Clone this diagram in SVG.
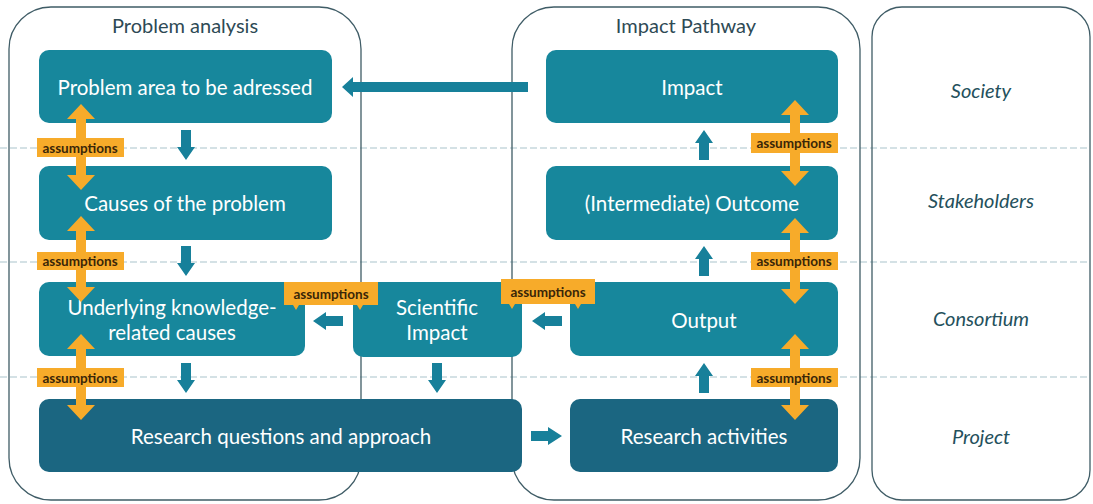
<svg xmlns="http://www.w3.org/2000/svg" width="1093" height="504" viewBox="0 0 1093 504">
<style>
.bg{fill:#ffffff}
.cont{fill:none;stroke:#3F5C66;stroke-width:1.3}
.dash{stroke:#A9C3CC;stroke-width:1.2;stroke-dasharray:7 3}
.box{fill:#17879C}
.dark{fill:#1B6681}
.arr{fill:#17809A}
.or{fill:#F7AB2A}
.bt{font-family:Lato,"Liberation Sans",sans-serif;font-size:20.5px;fill:#ffffff;text-anchor:middle;dominant-baseline:central}
.title{font-family:Lato,"Liberation Sans",sans-serif;font-size:20px;fill:#2E4A55;text-anchor:middle;dominant-baseline:central}
.lane{font-family:Lato,"Liberation Sans",sans-serif;font-size:20px;font-style:italic;fill:#24505C;text-anchor:middle;dominant-baseline:central}
.at{font-family:Lato,"Liberation Sans",sans-serif;font-size:13.5px;font-weight:bold;fill:#3A2608;text-anchor:middle;dominant-baseline:central}
</style>
<defs>
<path id="dbl" d="M0,-43 L14,-28 L5,-28 L5,28 L14,28 L0,43 L-14,28 L-5,28 L-5,-28 L-14,-28 Z"/>
<path id="down" d="M-5,0 L5,0 L5,17 L9,17 L0,30 L-9,17 L-5,17 Z"/>
<path id="up" d="M-5,0 L5,0 L5,-17 L9,-17 L0,-30 L-9,-17 L-5,-17 Z"/>
<path id="left" d="M0,-5 L0,5 L-17,5 L-17,9 L-30,0 L-17,-9 L-17,-5 Z"/>
</defs>
<rect class="bg" x="0" y="0" width="1093" height="504"/>

<g id="lanes">
<line class="dash" x1="0" y1="148" x2="1088" y2="148"/>
<line class="dash" x1="0" y1="262" x2="1088" y2="262"/>
<line class="dash" x1="0" y1="377" x2="1088" y2="377"/>
</g>

<g id="problem-analysis">
<rect class="cont" x="9" y="7" width="352" height="493" rx="42"/>
<text class="title" x="185" y="25">Problem analysis</text>
</g>
<g id="impact-pathway">
<rect class="cont" x="512" y="7" width="348" height="493" rx="42"/>
<text class="title" x="686" y="25">Impact Pathway</text>
</g>
<g id="levels">
<rect class="cont" x="872" y="7" width="218" height="493" rx="30"/>
<text class="lane" x="981" y="90">Society</text>
<text class="lane" x="981" y="200">Stakeholders</text>
<text class="lane" x="981" y="318">Consortium</text>
<text class="lane" x="981" y="436">Project</text>
</g>

<g id="connectors">
<path class="arr" d="M528,82 L528,92 L353,92 L353,97 L342,87 L353,77 L353,82 Z"/>
<use class="arr" href="#down" x="186" y="130"/>
<use class="arr" href="#down" x="186" y="246"/>
<use class="arr" href="#down" x="186" y="363"/>
<use class="arr" href="#down" x="437" y="363"/>
<use class="arr" href="#up" x="704" y="160"/>
<use class="arr" href="#up" x="704" y="276"/>
<use class="arr" href="#up" x="704" y="393"/>
<use class="arr" href="#left" x="343" y="321"/>
<use class="arr" href="#left" x="562" y="321"/>
<path class="arr" d="M531,431 L548,431 L548,427 L562,436 L548,445 L548,441 L531,441 Z"/>
</g>

<g id="n-problem-area"><rect class="box" x="39" y="50" width="293" height="73" rx="10"/><text class="bt" x="185" y="87">Problem area to be adressed</text></g>
<g id="n-causes"><rect class="box" x="39" y="166" width="293" height="74" rx="10"/><text class="bt" x="185" y="203">Causes of the problem</text></g>
<g id="n-underlying"><rect class="box" x="39" y="282" width="266" height="74" rx="10"/><text class="bt" x="172" y="307">Underlying knowledge-</text><text class="bt" x="172" y="332">related causes</text></g>
<g id="n-research-questions"><rect class="dark" x="39" y="399" width="483" height="73" rx="10"/><text class="bt" x="281" y="436">Research questions and approach</text></g>
<g id="n-scientific-impact"><rect class="box" x="353" y="282" width="169" height="75" rx="10"/><text class="bt" x="437" y="307">Scientific</text><text class="bt" x="437" y="332">Impact</text></g>
<g id="n-impact"><rect class="box" x="546" y="50" width="292" height="73" rx="10"/><text class="bt" x="692" y="87">Impact</text></g>
<g id="n-outcome"><rect class="box" x="546" y="166" width="292" height="74" rx="10"/><text class="bt" x="692" y="203">(Intermediate) Outcome</text></g>
<g id="n-output"><rect class="box" x="570" y="282" width="268" height="74" rx="10"/><text class="bt" x="704" y="320">Output</text></g>
<g id="n-research-activities"><rect class="dark" x="570" y="399" width="268" height="73" rx="10"/><text class="bt" x="704" y="436">Research activities</text></g>

<g id="assumptions">
<use class="or" href="#dbl" x="81" y="147"/>
<rect class="or" x="37" y="138" width="87" height="19"/><text class="at" x="80" y="147.5">assumptions</text>
<use class="or" href="#dbl" x="81" y="259"/>
<rect class="or" x="37" y="252" width="87" height="18"/><text class="at" x="80" y="261">assumptions</text>
<use class="or" href="#dbl" x="81" y="377"/>
<rect class="or" x="37" y="368" width="87" height="19"/><text class="at" x="80" y="377.5">assumptions</text>

<use class="or" href="#dbl" x="795" y="143"/>
<rect class="or" x="751" y="133" width="87" height="20"/><text class="at" x="794" y="143">assumptions</text>
<use class="or" href="#dbl" x="795" y="261"/>
<rect class="or" x="751" y="252" width="87" height="18"/><text class="at" x="794" y="261">assumptions</text>
<use class="or" href="#dbl" x="795" y="377"/>
<rect class="or" x="751" y="368" width="87" height="19"/><text class="at" x="794" y="377.5">assumptions</text>

<rect class="or" x="284" y="282" width="94" height="23"/>
<path class="or" d="M293,305 L299,305 L296,310 Z M357,305 L363,305 L360,310 Z"/>
<text class="at" x="331" y="293.5">assumptions</text>
<rect class="or" x="501" y="279" width="94" height="25"/>
<path class="or" d="M509,304 L515,304 L512,309 Z M575,304 L581,304 L578,309 Z"/>
<text class="at" x="548" y="291.5">assumptions</text>
</g>
</svg>
